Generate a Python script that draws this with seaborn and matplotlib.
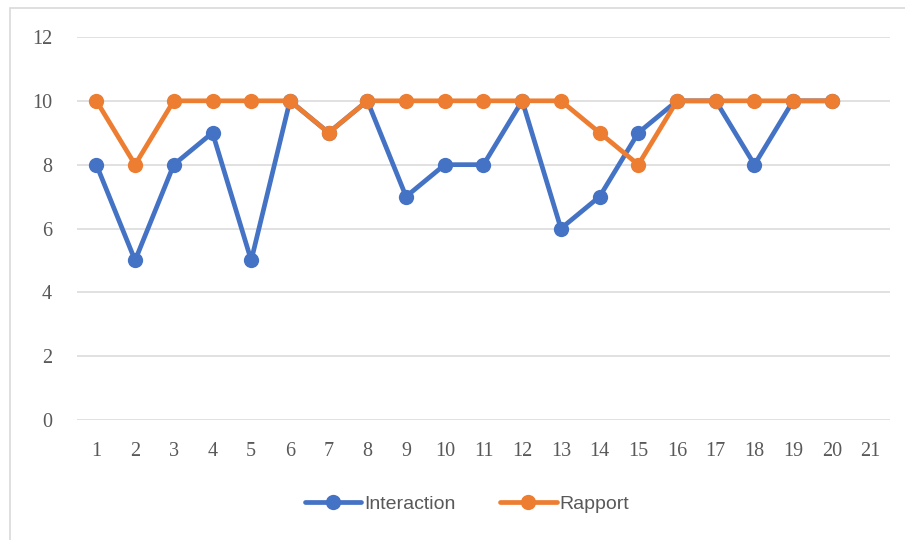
import pandas as pd
import seaborn as sns
import matplotlib.pyplot as plt
from matplotlib.patches import Rectangle

#---------------- data ----------------
categories = list(range(1, 21))
tick_labels = [str(i) for i in range(1, 22)]
interaction = [8, 5, 8, 9, 5, 10, 9, 10, 7, 8, 8, 10, 6, 7, 9, 10, 10, 8, 10, 10]
rapport = [10, 8, 10, 10, 10, 10, 9, 10, 10, 10, 10, 10, 10, 9, 8, 10, 10, 10, 10, 10]

df = pd.DataFrame({
    'Item': categories * 2,
    'Score': interaction + rapport,
    'Serie': ['Interaction'] * len(categories) + ['Rapport'] * len(categories),
})

#---------------- plot ----------------
sns.set_style('white')
plt.rcParams['font.family'] = ['Liberation Serif', 'DejaVu Serif']

fig = plt.figure(figsize=(9.05, 5.4), dpi=100)
ax = fig.add_axes([0.0851, 0.2222, 0.8983, 0.7093])

sns.lineplot(data=df, x='Item', y='Score', hue='Serie',
             palette={'Interaction': '#4472C4', 'Rapport': '#ED7D31'},
             marker='o', markersize=11, markeredgewidth=0,
             linewidth=3.4, ax=ax, legend=True)

ax.set_xlim(0.5, 21.5)
ax.set_ylim(0, 12)
ax.set_yticks(range(0, 13, 2))
ax.set_xticks(range(1, 22))
ax.set_xticklabels(tick_labels)
ax.grid(axis='y', color='#D9D9D9', linewidth=1.1)
ax.set_axisbelow(True)
for s in ax.spines.values():
    s.set_visible(False)
ax.tick_params(axis='both', length=0, labelsize=14.5, colors='#595959')
ax.tick_params(axis='x', pad=16)
ax.tick_params(axis='y', pad=18)

ax.set_xlabel('')
ax.set_ylabel('')

handles, labels = ax.get_legend_handles_labels()
ax.get_legend().remove()
fig.legend(handles, labels, loc='center', bbox_to_anchor=(0.516, 0.066),
           ncol=2, frameon=False, handlelength=2.9, columnspacing=2.3,
           handletextpad=0.15,
           prop={'family': ['Liberation Sans', 'DejaVu Sans'], 'size': 14},
           labelcolor='#595959')

# outer chart frame
fig.patches.append(Rectangle((10 / 905, -0.05), 1.2, 1 - 8 / 540 + 0.05,
                             transform=fig.transFigure, fill=False,
                             edgecolor='#D9D9D9', linewidth=1.2))

fig.savefig('out.png', dpi=100)
